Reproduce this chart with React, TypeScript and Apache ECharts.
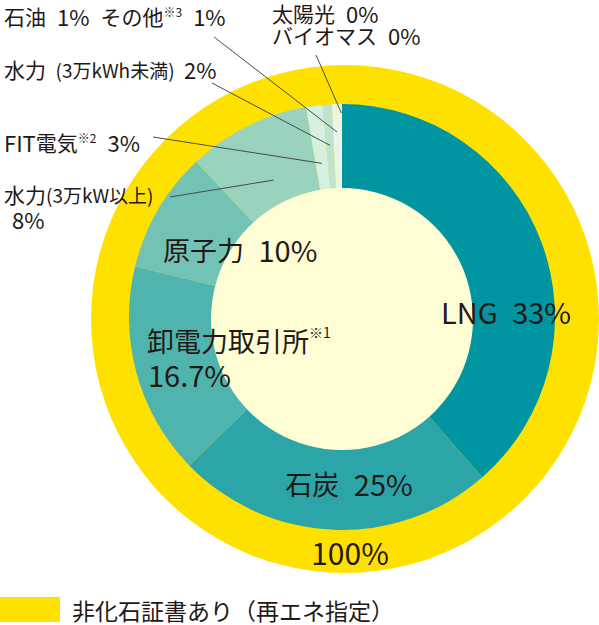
import React, { useEffect, useRef } from "react";
import * as echarts from "echarts";

// ---- data ----
const sliceNames = [
  "LNG",
  "石炭",
  "卸電力取引所",
  "原子力",
  "水力(3万kW以上)",
  "FIT電気",
  "水力(3万kWh未満)",
  "石油",
  "その他",
  "太陽光",
  "バイオマス",
];
// percentages printed in the labels
const shownPercent = [33, 25, 16.7, 10, 8, 3, 2, 1, 1, 0, 0];
// share of the ring each slice occupies as drawn in the picture (% of circle)
const arcShare = [38.6, 24.2, 16.1, 9.2, 9.3, 1.25, 0.72, 0.32, 0.32, 0.05, 0.05];
const certificateName = "非化石証書あり（再エネ指定）";
const certificateValue = 100;

// ---- styles ----
const sliceColors = [
  "#0095a1",
  "#2ba5a8",
  "#4fb4ae",
  "#72c3b6",
  "#99d3bd",
  "#d6f0df",
  "#c0e4cb",
  "#e9f6ef",
  "#e9f6ef",
  "#ffffff",
  "#ffffff",
];
const YELLOW = "#ffe100";
const CREAM = "#fffdd3";
const INK = "#231815";
const LINE = "#4a4a4a";
const FONT = '"Noto Sans CJK JP", "Noto Sans", sans-serif';
const EN = "\u2002";

const RING_CENTER = [342, 317];
const RING_RADIUS = [120, 213];
const OUTER_CENTER = [345, 319];
const OUTER_RADIUS = 254;
const CORE_CENTER = [342, 319];
const CORE_RADIUS = 131;

// leader lines: from label point to a point inside the slice(s)
const leaders = [
  { slices: [7, 8], from: [214, 37], r: 185 },
  { slices: [6], from: [212, 83], r: 172 },
  { slices: [5], from: [153, 137], r: 155 },
  { slices: [4], from: [170, 197], r: 153 },
  { slices: [9, 10], from: [316, 55], r: 204 },
];

function midAngleDeg(indices: number[]) {
  const total = arcShare.reduce((a, b) => a + b, 0);
  let start = 0;
  for (let i = 0; i < indices[0]; i++) start += arcShare[i];
  const span = indices.reduce((s, i) => s + arcShare[i], 0);
  return ((start + span / 2) / total) * 360;
}

function polar(angleDeg: number, r: number) {
  const a = (angleDeg * Math.PI) / 180;
  return [RING_CENTER[0] + r * Math.sin(a), RING_CENTER[1] - r * Math.cos(a)];
}

const pct = (i: number) => `${shownPercent[i]}%`;

function textEl(x: number, y: number, text: string, rich: any, align = "left") {
  return {
    type: "text",
    x,
    y,
    z: 100,
    silent: true,
    style: {
      text,
      rich,
      fill: INK,
      fontFamily: FONT,
      align,
      verticalAlign: "middle",
    },
  };
}

const richOuter = {
  a: { fontSize: 21, fontFamily: FONT, fill: INK, lineHeight: 22 },
  l: { fontSize: 22, fontFamily: FONT, fill: INK, lineHeight: 22 },
  p: { fontSize: 19, fontFamily: FONT, fill: INK, lineHeight: 22 },
  s: { fontSize: 12, fontFamily: FONT, fill: INK, lineHeight: 22, verticalAlign: "top" },
};
const richInner = {
  a: { fontSize: 27, fontFamily: FONT, fill: INK, lineHeight: 30 },
  l: { fontSize: 29, fontFamily: FONT, fill: INK, lineHeight: 30 },
  s: { fontSize: 14, fontFamily: FONT, fill: INK, lineHeight: 30, verticalAlign: "top" },
};

export default function App() {
  const ref = useRef<HTMLDivElement>(null);

  useEffect(() => {
    if (!ref.current) return;
    const chart = echarts.init(ref.current, null, { renderer: "svg" });

    const lineEls = leaders.map((l) => {
      const [x2, y2] = polar(midAngleDeg(l.slices), l.r);
      return {
        type: "line",
        z: 100,
        silent: true,
        shape: { x1: l.from[0], y1: l.from[1], x2, y2 },
        style: { stroke: LINE, lineWidth: 1 },
      };
    });

    const textEls = [
      textEl(
        4,
        16,
        `{a|${sliceNames[7]}}{l|${EN}${pct(7)}${EN}}{a|${sliceNames[8]}}{s|※3}{l|${EN}${pct(8)}}`,
        richOuter
      ),
      textEl(4, 69, `{a|水力}{p|${EN}(3万kWh未満)${EN}}{l|${pct(6)}}`, richOuter),
      textEl(4, 142, `{l|FIT}{a|電気}{s|※2}{l|${EN}${pct(5)}}`, richOuter),
      textEl(4, 194, `{a|水力}{p|(3万kW以上)}`, richOuter),
      textEl(12, 219, `{l|${pct(4)}}`, richOuter),
      textEl(272, 13, `{a|${sliceNames[9]}}{l|${EN}${pct(9)}}`, richOuter),
      textEl(272, 35, `{a|${sliceNames[10]}}{l|${EN}${pct(10)}}`, richOuter),
      textEl(506, 311, `{l|${sliceNames[0]}${EN}${pct(0)}}`, richInner, "center"),
      textEl(349, 483, `{a|${sliceNames[1]}}{l|${EN}${pct(1)}}`, richInner, "center"),
      textEl(147, 340, `{a|${sliceNames[2]}}{s|※1}`, richInner),
      textEl(148, 374, `{l|${pct(2)}}`, richInner),
      textEl(163, 249, `{a|${sliceNames[3]}}{l|${EN}${pct(3)}}`, richInner),
      textEl(350, 552, `{a|${certificateValue}%}`, {
        a: { fontSize: 30, fontFamily: FONT, fill: INK, lineHeight: 32 },
      }, "center"),
    ];

    chart.setOption({
      animation: false,
      backgroundColor: "#ffffff",
      textStyle: { fontFamily: FONT },
      legend: {
        data: [certificateName],
        left: 0,
        top: 597,
        padding: 0,
        icon: "rect",
        itemWidth: 60,
        itemHeight: 25,
        selectedMode: false,
        textStyle: {
          fontSize: 23,
          color: INK,
          fontFamily: FONT,
          padding: [0, 0, 0, 7],
        },
      },
      series: [
        {
          type: "pie",
          z: 1,
          silent: true,
          center: OUTER_CENTER,
          radius: [0, OUTER_RADIUS],
          label: { show: false },
          labelLine: { show: false },
          itemStyle: { color: YELLOW, borderWidth: 0 },
          data: [{ name: certificateName, value: certificateValue }],
        },
        {
          type: "pie",
          z: 2,
          silent: true,
          center: RING_CENTER,
          radius: RING_RADIUS,
          startAngle: 90,
          clockwise: true,
          minAngle: 0,
          avoidLabelOverlap: false,
          label: { show: false },
          labelLine: { show: false },
          itemStyle: { borderWidth: 0 },
          data: sliceNames.map((name, i) => ({
            name,
            value: arcShare[i],
            itemStyle: { color: sliceColors[i], borderWidth: 0 },
          })),
        },
        {
          type: "pie",
          z: 3,
          silent: true,
          center: CORE_CENTER,
          radius: [0, CORE_RADIUS],
          label: { show: false },
          labelLine: { show: false },
          itemStyle: { color: CREAM, borderWidth: 0 },
          data: [{ name: "core", value: 1 }],
        },
      ],
      graphic: { elements: [...lineEls, ...textEls] },
    });

    return () => chart.dispose();
  }, []);

  return (
    <div
      ref={ref}
      style={{ position: "fixed", left: 0, top: 0, width: 599, height: 625 }}
    />
  );
}
